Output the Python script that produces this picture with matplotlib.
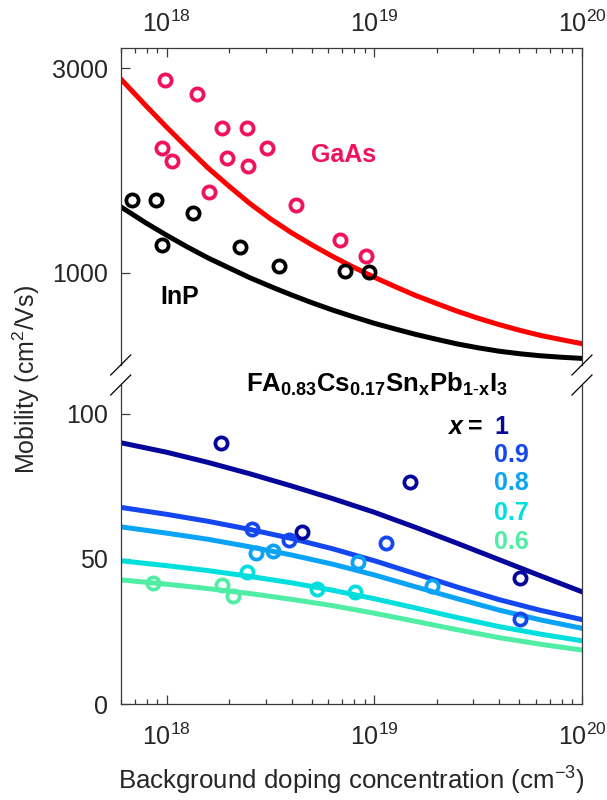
import matplotlib
matplotlib.use("Agg")
import matplotlib.pyplot as plt
from matplotlib.ticker import NullLocator, NullFormatter

plt.rcParams['font.family'] = ['Liberation Sans', 'DejaVu Sans']
plt.rcParams['mathtext.fontset'] = 'custom'
plt.rcParams['mathtext.rm'] = 'Liberation Sans'
plt.rcParams['mathtext.it'] = 'Liberation Sans:italic'
plt.rcParams['mathtext.bf'] = 'Liberation Sans:bold'

# ── Data: top panel (III-V reference) ──
gaas_n = [9.8e17, 1.40e18, 1.84e18, 2.44e18, 9.45e17, 1.06e18, 1.94e18,
          2.45e18, 3.03e18, 1.60e18, 4.17e18, 6.84e18, 9.10e18]
gaas_mu = [2819, 2615, 2175, 2175, 1953, 1827, 1849, 1778, 1953, 1546,
           1439, 1193, 1094]
inp_n = [6.78e17, 8.84e17, 1.33e18, 9.5e17, 2.25e18, 3.48e18, 7.21e18, 9.44e18]
inp_mu = [1479, 1479, 1380, 1161, 1147, 1037, 1011, 1002]

fit_n_top = [6.0e17, 7.94e17, 1.0e18, 1.26e18, 1.58e18, 2.0e18, 2.51e18,
             3.16e18, 3.98e18, 5.01e18, 6.31e18, 7.94e18, 1.0e19, 1.26e19,
             1.58e19, 2.0e19, 2.51e19, 3.16e19, 3.98e19, 5.01e19, 6.31e19,
             7.94e19, 1.0e20]
gaas_fit = [2836, 2454, 2186, 1955, 1757, 1591, 1452, 1336, 1241, 1161,
            1091, 1030, 976, 928, 885, 847, 813, 783, 757, 734, 714, 698, 683]
inp_fit = [1426, 1307, 1223, 1148, 1083, 1026, 974, 929, 888, 851, 818,
           789, 762, 739, 718, 699, 682, 668, 656, 647, 640, 635, 631]

# ── Data: bottom panel (perovskite, x = Sn fraction) ──
fit_n_bot = [6.0e17, 1.0e18, 1.58e18, 2.51e18, 3.98e18, 6.31e18, 1.0e19,
             1.58e19, 2.51e19, 3.98e19, 6.31e19, 1.0e20]
x_labels = ["1", "0.9", "0.8", "0.7", "0.6"]
x_colors = ["#06069A", "#1447F0", "#0BA3F5", "#00DEDE", "#50EDA5"]
fits = [
    [90.1, 86.8, 83.3, 79.4, 75.2, 70.8, 66.1, 60.9, 55.4, 49.8, 44.2, 38.7],
    [67.8, 65.4, 63.0, 60.2, 57.1, 53.5, 49.4, 44.9, 40.3, 36.0, 32.3, 29.1],
    [61.1, 58.9, 56.8, 54.2, 51.4, 48.2, 44.5, 40.4, 36.3, 32.4, 29.0, 26.1],
    [49.4, 47.7, 46.0, 44.0, 41.8, 39.2, 36.3, 33.1, 29.8, 26.7, 24.1, 21.8],
    [42.8, 41.3, 39.8, 38.1, 36.1, 33.9, 31.3, 28.5, 25.6, 22.9, 20.6, 18.6],
]
pts_n = [
    [1.82e18, 4.46e18, 1.49e19, 5.02e19],
    [2.56e18, 3.89e18, 1.14e19, 5.02e19],
    [2.68e18, 3.26e18, 8.30e18, 1.90e19],
    [2.43e18, 5.27e18, 8.05e18],
    [8.61e17, 1.85e18, 2.09e18],
]
pts_mu = [
    [89.9, 59.2, 76.4, 43.3],
    [60.3, 56.6, 55.4, 29.2],
    [52.2, 52.9, 49.1, 40.7],
    [45.4, 39.5, 38.5],
    [41.8, 40.9, 37.3],
]

GAAS_PT = "#F0125C"
LW = 3.6
MS = 8.8
MEW = 2.7
SPINE = "#3a3a3a"
FS = 18

fig = plt.figure(figsize=(6.07, 8.0), dpi=100)
ax_t = fig.add_axes([0.1989, 0.54375, 0.7599, 0.3959])
ax_b = fig.add_axes([0.1989, 0.12, 0.7599, 0.39875])

for ax in (ax_t, ax_b):
    ax.set_xscale("log")
    ax.set_xlim(6e17, 1e20)
    ax.xaxis.set_minor_formatter(NullFormatter())
    for s in ax.spines.values():
        s.set_color(SPINE)
        s.set_linewidth(0.9)
    ax.tick_params(which="both", direction="in", colors=SPINE,
                   labelcolor="#262626", labelsize=FS, width=0.9)
    ax.tick_params(which="major", length=6.5)
    ax.tick_params(which="minor", length=3.4)

# ── Top panel ──
ax_t.plot(fit_n_top, gaas_fit, color="#FF0000", lw=LW, zorder=2)
ax_t.plot(fit_n_top, inp_fit, color="black", lw=LW, zorder=2)
ax_t.plot(gaas_n, gaas_mu, "o", ms=MS, mew=MEW, mfc="none", mec=GAAS_PT, zorder=3)
ax_t.plot(inp_n, inp_mu, "o", ms=MS, mew=MEW, mfc="none", mec="black", zorder=3)
ax_t.set_yscale("log")
ax_t.set_ylim(609, 3344)
ax_t.set_yticks([1000, 3000])
ax_t.set_yticklabels(["1000", "3000"])
ax_t.yaxis.set_minor_locator(NullLocator())
ax_t.spines["bottom"].set_visible(False)
ax_t.tick_params(axis="x", which="both", top=True, bottom=False,
                 labeltop=True, labelbottom=False, pad=8)
ax_t.tick_params(axis="y", which="both", left=True, right=False, pad=9)
ax_t.text(0.484, 0.663, "GaAs", transform=ax_t.transAxes, ha="center",
          va="center", fontsize=FS, fontweight="bold", color=GAAS_PT)
ax_t.text(0.1286, 0.2147, "InP", transform=ax_t.transAxes, ha="center",
          va="center", fontsize=FS, fontweight="bold", color="black")

# ── Bottom panel ──
for fy, c in zip(fits, x_colors):
    ax_b.plot(fit_n_bot, fy, color=c, lw=LW, zorder=2)
for pn, pm, c in zip(pts_n, pts_mu, x_colors):
    ax_b.plot(pn, pm, "o", ms=MS, mew=MEW, mfc="none", mec=c, zorder=3)
ax_b.set_ylim(0, 110)
ax_b.set_yticks([0, 50, 100])
ax_b.spines["top"].set_visible(False)
ax_b.tick_params(axis="x", which="both", top=False, bottom=True, pad=14)
ax_b.tick_params(axis="y", which="both", left=True, right=False, pad=9)

ax_b.text(0.2716, 0.978,
          r"$\mathbf{FA_{0.83}Cs_{0.17}Sn_{x}Pb_{1\text{-}x}I_{3}}$",
          transform=ax_b.transAxes, ha="left", va="baseline",
          fontsize=FS + 0.5, color="black")
ys = [0.869, 0.7806, 0.6918, 0.5997, 0.5088]
for lab, c, yy in zip(x_labels, x_colors, ys):
    ax_b.text(0.809, yy, lab, transform=ax_b.transAxes, ha="left",
              va="center", fontsize=FS, fontweight="bold", color=c)
ax_b.text(0.7258, ys[0], "x", transform=ax_b.transAxes, ha="center",
          va="center", fontsize=FS, fontweight="bold", style="italic")
ax_b.text(0.769, ys[0], "=", transform=ax_b.transAxes, ha="center",
          va="center", fontsize=FS, fontweight="bold")

# ── Axis break marks ──
def slash(ax, xa, ya):
    bb = ax.get_position()
    dx = 10 / (bb.width * 607)
    dy = 10 / (bb.height * 800)
    ax.plot([xa - dx, xa + dx], [ya - dy, ya + dy], color="black", lw=0.9,
            transform=ax.transAxes, clip_on=False, zorder=5)

for xa in (0, 1):
    slash(ax_t, xa, 0)
    slash(ax_b, xa, 1)

fig.text(0.0428, 0.526, "Mobility (cm$^2$/Vs)", rotation=90, ha="center",
         va="center", fontsize=FS, color="#262626")
fig.text(0.578, 0.0125, "Background doping concentration (cm$^{-3}$)",
         ha="center", va="baseline", fontsize=FS + 0.6, color="#262626")

fig.savefig("out.png", dpi=100)
